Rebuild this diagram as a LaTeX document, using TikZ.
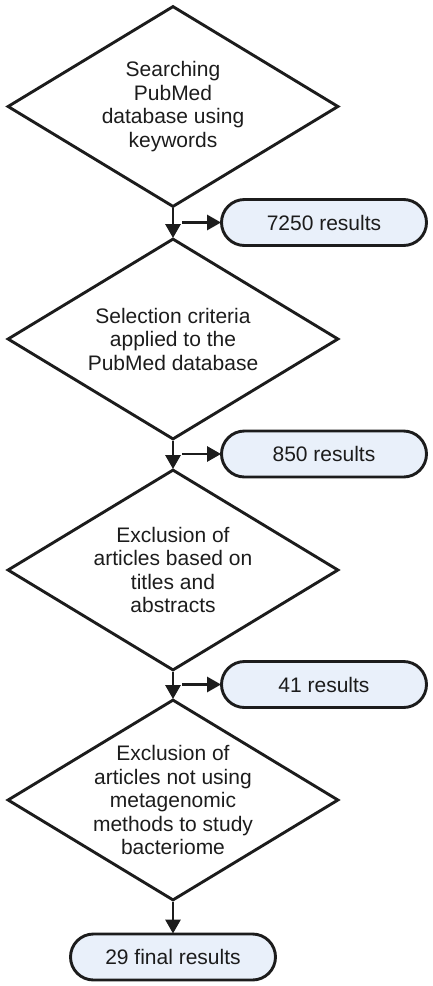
\documentclass[tikz,border=0pt]{standalone}
\usepackage{fontspec}
\setmainfont{Liberation Sans}
\usetikzlibrary{shapes.geometric,arrows.meta}

\definecolor{ink}{RGB}{28,28,28}
\definecolor{pillfill}{RGB}{233,240,250}

\tikzset{
    decision/.style={draw=ink, line width=2.9pt, diamond, inner sep=0pt,
        minimum width=331pt, minimum height=201pt},
    steptext/.style={align=center, font=\fontsize{21}{23.5}\selectfont, text=ink},
    result/.style={draw=ink, line width=2.9pt, fill=pillfill, rounded corners=23pt,
        minimum width=205pt, minimum height=46pt, inner sep=0pt,
        font=\fontsize{21}{24}\selectfont, text=ink},
    flow/.style={draw=ink, line width=2.9pt,
        -{Triangle[length=14pt,width=15pt]}, shorten >=-1pt},
}

\begin{document}
\begin{tikzpicture}[x=1pt,y=-1pt]
    \useasboundingbox (0,0) rectangle (433,986);

    % screening steps
    \node [decision, label={[steptext]center:Searching\\PubMed\\database using\\keywords}]
        (search) at (173,106.5) {};
    \node [decision, label={[steptext]center:Selection criteria\\applied to the\\PubMed database}]
        (select) at (173,339) {};
    \node [decision, label={[steptext]center:Exclusion of\\articles based on\\titles and\\abstracts}]
        (titles) at (173,570) {};
    \node [decision, label={[steptext]center:Exclusion of\\articles not using\\metagenomic\\methods to study\\bacteriome}]
        (methods) at (173,800) {};

    % counts
    \node [result] (res1) at (324,222.5) {7250 results};
    \node [result] (res2) at (324,454)   {850 results};
    \node [result] (res3) at (324,684.5) {41 results};
    \node [result] (final) at (173,957)  {29 final results};

    \coordinate (j1) at ([xshift=9pt]search.south |- res1.west);
    \coordinate (j2) at ([xshift=9pt]select.south |- res2.west);
    \coordinate (j3) at ([xshift=9pt]titles.south |- res3.west);

    \draw [flow] (search.south)  -- (select.north);
    \draw [flow] (select.south)  -- (titles.north);
    \draw [flow] (titles.south)  -- (methods.north);
    \draw [flow] (methods.south) -- (final.north);

    \draw [flow] (j1) -- (res1.west);
    \draw [flow] (j2) -- (res2.west);
    \draw [flow] (j3) -- (res3.west);
\end{tikzpicture}
\end{document}
